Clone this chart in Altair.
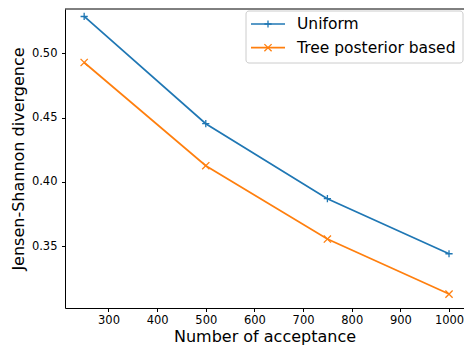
import altair as alt
import pandas as pd

# Data
acceptance = [250, 500, 750, 1000]
uniform = [0.5284, 0.4452, 0.3870, 0.3443]
tree_posterior = [0.4927, 0.4126, 0.3557, 0.3130]
series_names = ["Uniform", "Tree posterior based"]
series_colors = ["#1f77b4", "#ff7f0e"]
x_ticks = [300, 400, 500, 600, 700, 800, 900, 1000]
y_ticks = [0.35, 0.40, 0.45, 0.50]

PLUS = "M-1,0L1,0M0,-1L0,1"
XMARK = "M-1,-1L1,1M-1,1L1,-1"
marker_paths = [PLUS, XMARK]

rows = []
for name, vals in zip(series_names, [uniform, tree_posterior]):
    for xv, yv in zip(acceptance, vals):
        rows.append({"acceptance": xv, "value": yv, "series": name})
df = pd.DataFrame(rows)

FONT = "DejaVu Sans"
PLOT_W = 399
PLOT_H = 299

x_enc = alt.X(
    "acceptance:Q",
    scale=alt.Scale(domain=[210.6, 1030.8], nice=False, zero=False),
    axis=alt.Axis(values=x_ticks, title="Number of acceptance", format="d"),
)
y_enc = alt.Y(
    "value:Q",
    scale=alt.Scale(domain=[0.3022, 0.5342], nice=False, zero=False),
    axis=alt.Axis(values=y_ticks, title="Jensen-Shannon divergence", format=".2f"),
)
color_enc = alt.Color(
    "series:N",
    scale=alt.Scale(domain=series_names, range=series_colors),
    legend=None,
)
shape_enc = alt.Shape(
    "series:N",
    scale=alt.Scale(domain=series_names, range=marker_paths),
    legend=None,
)

base = alt.Chart(df)
lines = base.mark_line(strokeWidth=1.7, clip=True).encode(
    x=x_enc, y=y_enc, color=color_enc, detail="series:N"
)
points = base.mark_point(filled=False, size=52, strokeWidth=1.3, opacity=1).encode(
    x=x_enc, y=y_enc, color=color_enc, shape=shape_enc
)

# top frame line (the right side is cut off in the reference)
top_frame = alt.Chart(pd.DataFrame({"k": [0]})).mark_rule(
    color="black", strokeWidth=1
).encode(x=alt.value(0), x2=alt.value(PLOT_W), y=alt.value(0))

# Manual legend (matplotlib style: line + marker)
legend_box = alt.Chart(pd.DataFrame({"k": [0]})).mark_rect(
    fill="white", fillOpacity=0.8, stroke="#cccccc", strokeWidth=1, cornerRadius=3
).encode(x=alt.value(181), x2=alt.value(398), y=alt.value(2), y2=alt.value(54))

legend_layers = [legend_box]
entry_y = [15, 38.7]
for name, col, path, ly in zip(series_names, series_colors, marker_paths, entry_y):
    edf = pd.DataFrame({"series": [name]})
    legend_layers.append(
        alt.Chart(edf).mark_rule(color=col, strokeWidth=1.7).encode(
            x=alt.value(186), x2=alt.value(220), y=alt.value(ly)
        )
    )
    legend_layers.append(
        alt.Chart(edf).mark_point(shape=path, filled=False, size=52, strokeWidth=1.3,
                                  color=col, opacity=1).encode(
            x=alt.value(203), y=alt.value(ly)
        )
    )
    legend_layers.append(
        alt.Chart(edf).mark_text(align="left", baseline="middle", font=FONT,
                                 fontSize=15.5, color="black").encode(
            x=alt.value(232), y=alt.value(ly), text="series:N"
        )
    )

chart = alt.layer(lines, points, top_frame, *legend_layers).properties(
    width=PLOT_W,
    height=PLOT_H,
    autosize=alt.AutoSizeParams(type="none"),
    padding={"left": 57, "top": 1, "right": 0, "bottom": 38},
).configure_view(
    stroke=None
).configure_axis(
    domain=True,
    domainColor="black",
    domainWidth=1,
    grid=False,
    ticks=True,
    tickSize=3.5,
    tickColor="black",
    tickWidth=1,
    labelFont=FONT,
    labelFontSize=11.5,
    labelColor="black",
    labelPadding=3,
    titleFont=FONT,
    titleFontSize=16,
    titleFontWeight="normal",
    titleColor="black",
).configure_axisX(
    titlePadding=2,
).configure_axisY(
    titlePadding=4.5,
    labelPadding=4.5,
)

chart.save("out.html", embed_options={"renderer": "svg", "actions": False})
